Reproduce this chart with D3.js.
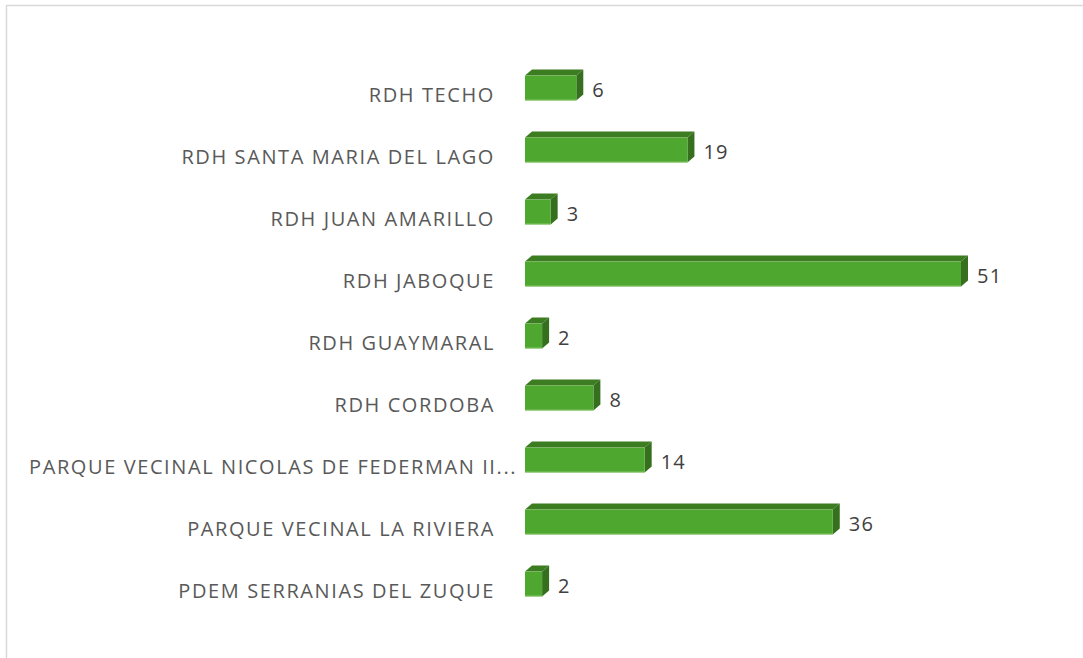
<html>
  <head>
	<title>Bar chart</title>
	<script src="https://cdn.jsdelivr.net/npm/d3@7/dist/d3.min.js"></script>
	<style>
	  body { margin: 0; background: #fff; }
	  text { font-family: "Open Sans", sans-serif; }
	</style>
  </head>
  <body>
	<svg></svg>
  <script type="text/javascript">
	var categories = ['RDH TECHO', 'RDH SANTA MARIA DEL LAGO', 'RDH JUAN AMARILLO', 'RDH JABOQUE',
	                  'RDH GUAYMARAL', 'RDH CORDOBA', 'PARQUE VECINAL NICOLAS DE FEDERMAN II...',
	                  'PARQUE VECINAL LA RIVIERA', 'PDEM SERRANIAS DEL ZUQUE'];
	var values = [6, 19, 3, 51, 2, 8, 14, 36, 2];

	(function() {
	  var W = 1083, H = 658,
	      depthX = 7, depthY = 6,
	      labelRight = 495, labelLeft = 29;

	  var svg = d3.select('svg')
	        .attr('width', W)
	        .attr('height', H);

	  // frame around the chart area
	  svg.append('rect')
	     .attr('x', 6.5).attr('y', 5.5)
	     .attr('width', W + 20).attr('height', H + 20)
	     .attr('fill', '#fff')
	     .attr('stroke', '#d9d9d9')
	     .attr('stroke-width', 1.5);

	  var x = d3.scaleLinear().domain([0, 51]).range([525, 961]);
	  var y = d3.scaleBand().domain(categories).range([57, 615])
	        .paddingInner(0.6).paddingOuter(0.3);

	  var data = categories.map(function(c, i) { return {name: c, value: values[i]}; });
	  var bw = y.bandwidth();

	  var bars = svg.selectAll('.bar')
	        .data(data)
	        .enter()
	        .append('g')
	        .attr('class', 'bar');

	  // top face
	  bars.append('path')
	      .attr('fill', '#3c7d22')
	      .attr('d', function(d) {
	        var x0 = x(0), x1 = x(d.value), y0 = y(d.name);
	        return 'M' + x0 + ',' + y0 + 'L' + (x0 + depthX) + ',' + (y0 - depthY) +
	               'L' + (x1 + depthX) + ',' + (y0 - depthY) + 'L' + x1 + ',' + y0 + 'Z';
	      });
	  // side face
	  bars.append('path')
	      .attr('fill', '#36701f')
	      .attr('d', function(d) {
	        var x1 = x(d.value), y0 = y(d.name);
	        return 'M' + x1 + ',' + y0 + 'L' + (x1 + depthX) + ',' + (y0 - depthY) +
	               'L' + (x1 + depthX) + ',' + (y0 + bw - depthY) + 'L' + x1 + ',' + (y0 + bw) + 'Z';
	      });
	  // front face
	  bars.append('rect')
	      .attr('x', x(0))
	      .attr('y', function(d) { return y(d.name); })
	      .attr('width', function(d) { return x(d.value) - x(0); })
	      .attr('height', bw)
	      .attr('fill', '#4ea72e');
	  bars.append('line')
	      .attr('x1', x(0))
	      .attr('x2', function(d) { return x(d.value); })
	      .attr('y1', function(d) { return y(d.name) + bw - 0.5; })
	      .attr('y2', function(d) { return y(d.name) + bw - 0.5; })
	      .attr('stroke', '#7cc35e')
	      .attr('stroke-width', 1);

	  // value labels
	  svg.selectAll('.value')
	     .data(data)
	     .enter()
	     .append('text')
	     .attr('class', 'value')
	     .attr('x', function(d) { return x(d.value) + depthX + 9; })
	     .attr('y', function(d) { return y(d.name) + bw / 2 + 2; })
	     .attr('dy', '0.35em')
	     .attr('font-size', 20)
	     .attr('letter-spacing', 1.2)
	     .attr('fill', '#404040')
	     .text(function(d) { return d.value; });

	  // category labels
	  svg.selectAll('.cat')
	     .data(data)
	     .enter()
	     .append('text')
	     .attr('class', 'cat')
	     .attr('x', labelRight)
	     .attr('y', function(d) { return y(d.name) + bw / 2 + 7; })
	     .attr('dy', '0.35em')
	     .attr('text-anchor', 'end')
	     .attr('font-size', 20)
	     .attr('letter-spacing', 1.6)
	     .attr('fill', '#595959')
	     .text(function(d) { return d.name; })
	     .each(function() {
	       if (this.getComputedTextLength() > labelRight - labelLeft) {
	         d3.select(this).attr('x', labelLeft).attr('text-anchor', 'start');
	       }
	     });
	})();
  </script>
  </body>
</html>
